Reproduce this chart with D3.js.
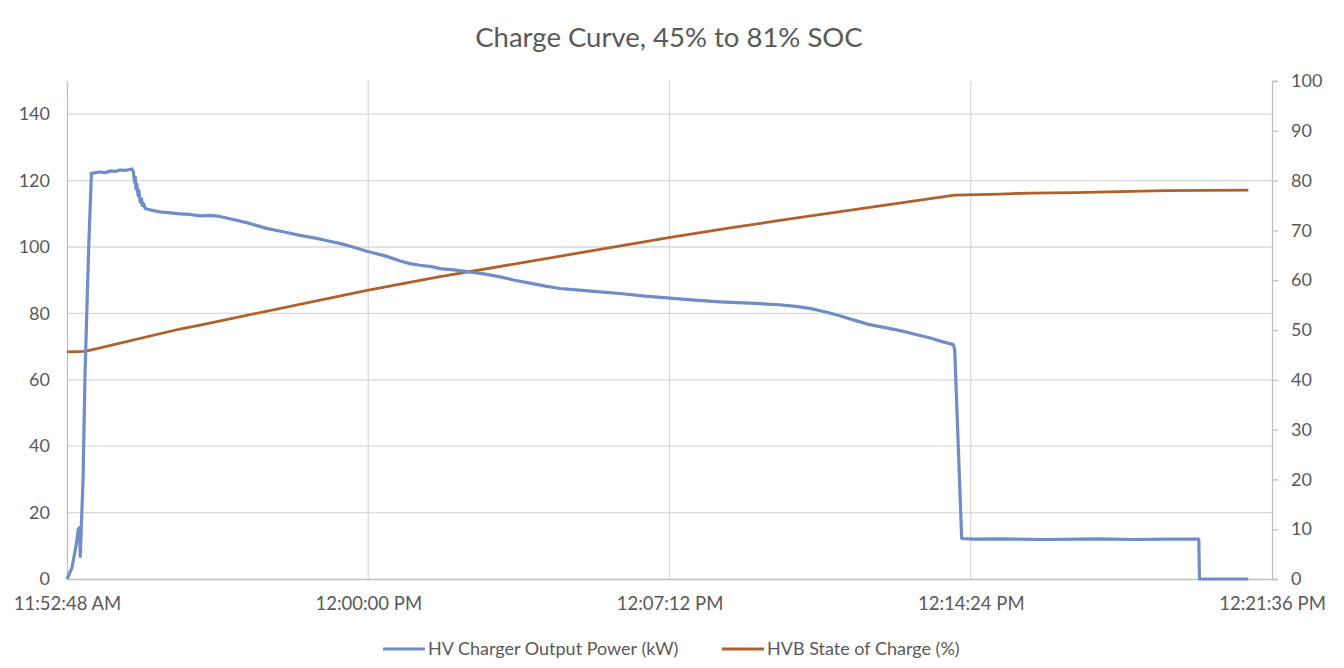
<!DOCTYPE html>
<html><head><meta charset="utf-8">
<script src="https://cdn.jsdelivr.net/npm/d3@7"></script>
<style>body{margin:0;background:#fff}text{font-family:Lato,"Open Sans",sans-serif}</style>
</head><body><svg id="c" width="1344" height="668"></svg>
<script>
const powerTimes = ["11:52:48","11:52:55","11:53:01","11:53:04","11:53:06","11:53:07","11:53:11","11:53:14","11:53:19","11:53:23","11:53:35","11:53:43","11:53:50","11:53:58","11:54:04","11:54:13","11:54:21","11:54:23","11:54:25","11:54:26","11:54:27","11:54:28","11:54:30","11:54:31","11:54:33","11:54:35","11:54:36","11:54:38","11:54:40","11:54:47","11:55:01","11:55:16","11:55:30","11:55:44","11:55:59","11:56:13","11:56:27","11:56:48","11:57:10","11:57:34","11:57:58","11:58:22","11:58:46","11:59:03","11:59:19","11:59:38","11:59:58","12:00:23","12:00:46","12:01:00","12:01:14","12:01:33","12:01:43","12:02:03","12:02:22","12:02:46","12:03:09","12:03:30","12:03:52","12:04:14","12:04:35","12:05:03","12:05:32","12:06:01","12:06:37","12:07:13","12:07:48","12:08:24","12:09:07","12:09:50","12:10:13","12:10:33","12:10:55","12:11:16","12:11:38","12:11:59","12:12:21","12:12:43","12:13:04","12:13:26","12:13:43","12:13:59","12:14:01","12:14:11","12:14:28","12:15:06","12:16:08","12:16:58","12:17:29","12:18:18","12:19:08","12:19:51","12:19:52","12:21:02"];
const powerValues = [0,3.3,10,14.8,15.5,6.8,30,63,99,122.2,122.6,122.4,122.9,122.8,123.2,123.1,123.5,122.8,119.5,121,117.5,119,115.5,117,113.5,114.5,112.5,113,111.6,111.2,110.6,110.3,110.0,109.8,109.4,109.5,109.2,108.2,107.1,105.6,104.6,103.5,102.6,101.8,101.1,100.0,98.7,97.4,95.8,95.0,94.5,94.0,93.5,93.1,92.6,91.9,91.0,90.0,89.1,88.2,87.5,87.0,86.5,86.0,85.2,84.6,84.0,83.5,83.1,82.6,82.1,81.5,80.5,79.3,77.9,76.6,75.7,74.8,73.7,72.6,71.5,70.6,69.0,12.2,12.0,12.1,11.9,12.0,12.1,11.9,12.0,12.0,0,0];
const socTimes = ["11:52:48","11:53:14","11:55:30","11:55:59","12:00:00","12:01:43","12:07:13","12:08:39","12:09:50","12:14:01","12:15:06","12:15:49","12:16:54","12:17:58","12:19:03","12:21:02"];
const socValues = [45.6,45.7,50.2,51.0,58.0,60.7,68.6,70.5,72.0,77.1,77.3,77.5,77.6,77.8,78.0,78.1];
const leftTicks = [0,20,40,60,80,100,120,140];
const rightTicks = [0,10,20,30,40,50,60,70,80,90,100];
const xTickLabels = ["11:52:48 AM","12:00:00 PM","12:07:12 PM","12:14:24 PM","12:21:36 PM"];
const seriesNames = ["HV Charger Output Power (kW)","HVB State of Charge (%)"];
const titleText = "Charge Curve, 45% to 81% SOC";

const parseT = d3.timeParse("%Y-%m-%d %H:%M:%S");
const parseL = d3.timeParse("%Y-%m-%d %I:%M:%S %p");
const day = "2020-01-01 ";
const tickDates = xTickLabels.map(s => parseL(day + s));
const power = powerTimes.map((t,i)=>({t:parseT(day+t), v:powerValues[i]}));
const soc = socTimes.map((t,i)=>({t:parseT(day+t), v:socValues[i]}));

const L=67, R=1272, T=81, B=579;
const x = d3.scaleTime().domain([tickDates[0], tickDates[tickDates.length-1]]).range([L,R]);
const yL = d3.scaleLinear().domain([0,150]).range([B,T]);
const yR = d3.scaleLinear().domain([0,100]).range([B,T]);
const blue="#6f8dc6", orange="#b0602a", txt="#595959", grid="#d9d9d9", axisC="#bfbfbf";

const svg = d3.select("#c");
svg.append("text").attr("x",669).attr("y",47).attr("text-anchor","middle")
  .attr("font-size",27.5).attr("fill",txt).text(titleText);

// horizontal gridlines
svg.append("g").selectAll("line").data(leftTicks.filter(d=>d>0)).join("line")
  .attr("x1",L).attr("x2",R).attr("y1",d=>yL(d)).attr("y2",d=>yL(d))
  .attr("stroke",grid).attr("stroke-width",1.3);
// vertical gridlines
svg.append("g").selectAll("line").data(tickDates.slice(1,-1)).join("line")
  .attr("x1",d=>x(d)).attr("x2",d=>x(d)).attr("y1",T).attr("y2",B)
  .attr("stroke",grid).attr("stroke-width",1.3);

// left axis
const gl = svg.append("g").attr("transform",`translate(${L},0)`)
  .call(d3.axisLeft(yL).tickValues(leftTicks).tickSize(0).tickPadding(17));
gl.select(".domain").attr("stroke",axisC).attr("stroke-width",1.3);
gl.selectAll("text").attr("font-size",18).attr("fill",txt).attr("font-family","Lato");
// right axis
const gr = svg.append("g").attr("transform",`translate(${R},0)`)
  .call(d3.axisRight(yR).tickValues(rightTicks).tickSize(6).tickPadding(13));
gr.select(".domain").attr("stroke",axisC).attr("stroke-width",1.3);
gr.selectAll(".tick line").attr("stroke",axisC).attr("stroke-width",1.3);
gr.selectAll("text").attr("font-size",18).attr("fill",txt).attr("font-family","Lato");
// bottom axis
const gb = svg.append("g").attr("transform",`translate(0,${B})`)
  .call(d3.axisBottom(x).tickValues(tickDates).tickSize(0).tickPadding(18)
    .tickFormat((d,i)=>xTickLabels[i]));
gb.select(".domain").attr("stroke",axisC).attr("stroke-width",1.3);
gb.selectAll("text").attr("font-size",18.5).attr("fill",txt).attr("font-family","Lato");

// lines
svg.append("path").datum(soc).attr("fill","none").attr("stroke",orange).attr("stroke-width",2.8)
  .attr("stroke-linejoin","round")
  .attr("d",d3.line().x(d=>x(d.t)).y(d=>yR(d.v)));
svg.append("path").datum(power).attr("fill","none").attr("stroke",blue).attr("stroke-width",3.2)
  .attr("stroke-linejoin","round")
  .attr("d",d3.line().x(d=>x(d.t)).y(d=>yL(d.v)));

// legend
const leg = [{x:383,c:blue,n:seriesNames[0]},{x:722,c:orange,n:seriesNames[1]}];
const lg = svg.append("g").selectAll("g").data(leg).join("g");
lg.append("line").attr("x1",d=>d.x).attr("x2",d=>d.x+42).attr("y1",649).attr("y2",649)
  .attr("stroke",d=>d.c).attr("stroke-width",3);
lg.append("text").attr("x",d=>d.x+45).attr("y",655).attr("font-size",18).attr("fill",txt).text(d=>d.n);
</script></body></html>
